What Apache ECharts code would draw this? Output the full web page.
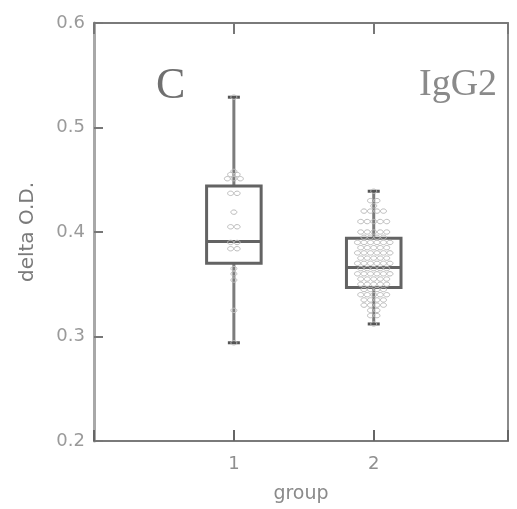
<!DOCTYPE html>
<html>
<head>
<meta charset="utf-8">
<script src="https://cdn.jsdelivr.net/npm/echarts@6/dist/echarts.min.js"></script>
<style>
  html, body { margin: 0; padding: 0; background: #fff; }
  #chart { width: 517px; height: 509px; }
</style>
</head>
<body>
<div id="chart"></div>
<script>
// Group positions on the x axis
const groups = [1, 2];
const groupLabels = ['1', '2'];
// Box summaries: [whisker low, Q1, median, Q3, whisker high]
const box1 = [0.294, 0.370, 0.391, 0.444, 0.529];
const box2 = [0.312, 0.347, 0.366, 0.394, 0.439];
// Individual measurements per group (delta O.D.)
const group1Values = [0.529, 0.458, 0.455, 0.455, 0.451, 0.451, 0.451, 0.437, 0.437,
  0.419, 0.405, 0.405, 0.390, 0.390, 0.384, 0.384, 0.365, 0.360, 0.354, 0.325, 0.294];
const group2Values = [0.439, 0.430, 0.430, 0.425, 0.420, 0.420, 0.420, 0.420,
  0.410, 0.410, 0.410, 0.410, 0.410, 0.400, 0.400, 0.400, 0.400, 0.400,
  0.395, 0.395, 0.395, 0.395, 0.390, 0.390, 0.390, 0.390, 0.390, 0.390,
  0.385, 0.385, 0.385, 0.385, 0.385, 0.380, 0.380, 0.380, 0.380, 0.380, 0.380,
  0.375, 0.375, 0.375, 0.375, 0.375, 0.370, 0.370, 0.370, 0.370, 0.370, 0.370,
  0.365, 0.365, 0.365, 0.365, 0.365, 0.360, 0.360, 0.360, 0.360, 0.360, 0.360,
  0.355, 0.355, 0.355, 0.355, 0.355, 0.350, 0.350, 0.350, 0.350, 0.350,
  0.345, 0.345, 0.345, 0.345, 0.340, 0.340, 0.340, 0.340, 0.340,
  0.335, 0.335, 0.335, 0.335, 0.330, 0.330, 0.330, 0.330, 0.325, 0.325,
  0.320, 0.320, 0.312];
// Y tick labels
const yTicks = ['0.2', '0.3', '0.4', '0.5', '0.6'];

// Dot-plot rows: tied values sit side by side, centred on the group
function dotRows(group, values) {
  const counts = {};
  values.forEach(v => { counts[v] = (counts[v] || 0) + 1; });
  const seen = {};
  return values.map(v => {
    const slot = seen[v] || 0;
    seen[v] = slot + 1;
    return [group, v, slot, counts[v]];
  });
}
const dotData = dotRows(groups[0], group1Values).concat(dotRows(groups[1], group2Values));
const boxData = [[groups[0]].concat(box1), [groups[1]].concat(box2)];

const xMin = 0, xMax = 2.96;
const chart = echarts.init(document.getElementById('chart'));

chart.setOption({
  animation: false,
  backgroundColor: '#fff',
  grid: { left: 94, right: 9, top: 23, bottom: 68 },
  xAxis: [{
    type: 'value', min: xMin, max: xMax, interval: 1,
    name: 'group', nameLocation: 'middle', nameGap: 44,
    nameTextStyle: { fontFamily: 'DejaVu Sans', fontSize: 19, color: '#8a8a8a' },
    axisLine: { onZero: false, lineStyle: { color: '#7a7a7a', width: 2 } },
    axisTick: { show: true, inside: true, length: 11, lineStyle: { color: '#666', width: 2 } },
    axisLabel: {
      margin: 14, fontFamily: 'DejaVu Sans', fontSize: 18, color: '#8f8f8f',
      formatter: v => { const i = groups.indexOf(v); return i >= 0 ? groupLabels[i] : ''; }
    },
    splitLine: { show: false }
  }, {
    type: 'value', position: 'top', min: xMin, max: xMax, interval: 1,
    axisLine: { show: true, onZero: false, lineStyle: { color: '#7a7a7a', width: 2 } },
    axisTick: { show: true, inside: true, length: 11, lineStyle: { color: '#777', width: 2 } },
    axisLabel: { show: false },
    splitLine: { show: false }
  }],
  yAxis: [{
    type: 'value', min: 0.2, max: 0.6, interval: 0.1,
    name: 'delta O.D.', nameLocation: 'middle', nameGap: 56,
    nameTextStyle: { fontFamily: 'DejaVu Sans', fontSize: 20, color: '#7a7a7a' },
    axisLine: { show: true, onZero: false, lineStyle: { color: '#a8a8a8', width: 3 } },
    axisTick: { show: true, inside: true, length: 9, lineStyle: { color: '#777', width: 2 } },
    axisLabel: {
      margin: 9, fontFamily: 'DejaVu Sans', fontSize: 18, color: '#9a9a9a',
      formatter: v => yTicks[Math.round((v - 0.2) * 10)] || ''
    },
    splitLine: { show: false }
  }, {
    type: 'value', position: 'right', min: 0.2, max: 0.6, interval: 0.1,
    axisLine: { show: true, onZero: false, lineStyle: { color: '#8a8a8a', width: 2 } },
    axisTick: { show: false },
    axisLabel: { show: false },
    splitLine: { show: false }
  }],
  graphic: [
    { type: 'text', left: 156, top: 64,
      style: { text: 'C', font: '44px "Liberation Serif"', fill: '#707070' } },
    { type: 'text', left: 419, top: 66,
      style: { text: 'IgG2', font: '38px "Liberation Serif"', fill: '#8a8a8a' } }
  ],
  series: [{
    // Box-and-whisker outlines
    type: 'custom',
    data: boxData,
    encode: { x: 0, y: [1, 2, 3, 4, 5] },
    z: 2,
    renderItem: (params, api) => {
      const x = api.value(0);
      const lo = api.coord([x, api.value(1)]);
      const q1 = api.coord([x, api.value(2)]);
      const md = api.coord([x, api.value(3)]);
      const q3 = api.coord([x, api.value(4)]);
      const hi = api.coord([x, api.value(5)]);
      const half = api.size([0.39, 0])[0] / 2;
      const cap = 6;
      const edge = { stroke: '#636363', lineWidth: 3, fill: null };
      return {
        type: 'group',
        children: [
          { type: 'line', shape: { x1: hi[0], y1: hi[1], x2: q3[0], y2: q3[1] }, style: { stroke: '#7c7c7c', lineWidth: 3 } },
          { type: 'line', shape: { x1: q1[0], y1: q1[1], x2: lo[0], y2: lo[1] }, style: { stroke: '#7c7c7c', lineWidth: 3 } },
          { type: 'line', shape: { x1: hi[0] - cap, y1: hi[1], x2: hi[0] + cap, y2: hi[1] }, style: { stroke: '#555', lineWidth: 3 } },
          { type: 'line', shape: { x1: lo[0] - cap, y1: lo[1], x2: lo[0] + cap, y2: lo[1] }, style: { stroke: '#555', lineWidth: 3 } },
          { type: 'rect', shape: { x: q3[0] - half, y: q3[1], width: half * 2, height: q1[1] - q3[1] }, style: edge },
          { type: 'line', shape: { x1: md[0] - half, y1: md[1], x2: md[0] + half, y2: md[1] }, style: { stroke: '#636363', lineWidth: 3 } }
        ]
      };
    }
  }, {
    // Individual measurements, ties spread into rows
    type: 'custom',
    data: dotData,
    encode: { x: 0, y: 1 },
    z: 3,
    renderItem: (params, api) => {
      const p = api.coord([api.value(0), api.value(1)]);
      const slot = api.value(2);
      const n = api.value(3);
      const dx = (slot - (n - 1) / 2) * 6.5;
      return {
        type: 'ellipse',
        shape: { cx: p[0] + dx, cy: p[1], rx: 3, ry: 2.2 },
        style: { fill: 'rgba(255,255,255,0)', stroke: '#bcbcbc', lineWidth: 1 }
      };
    }
  }]
});
</script>
</body>
</html>
